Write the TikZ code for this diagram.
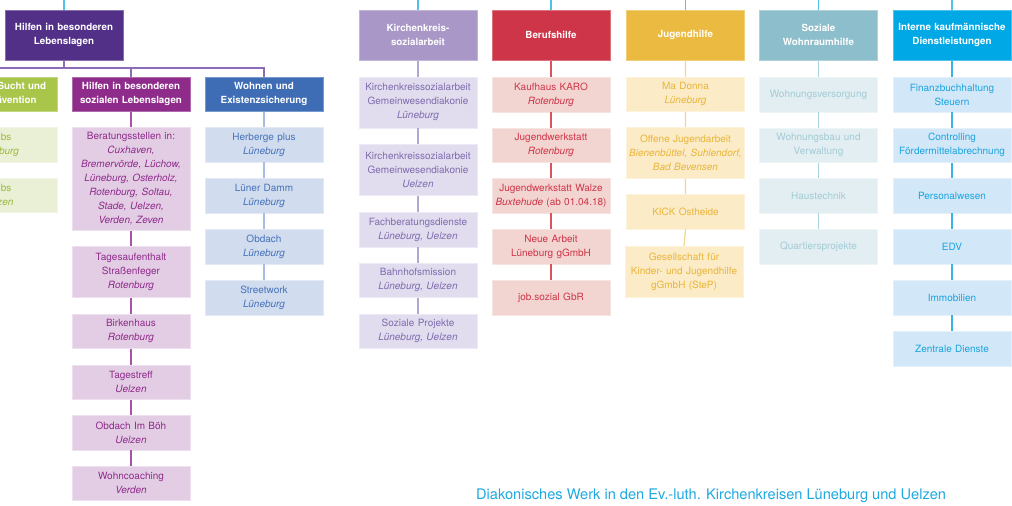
\documentclass[tikz,border=0pt]{standalone}
\usepackage{fontspec}
\setmainfont{TeX Gyre Heros}
\definecolor{cHA}{HTML}{523088}
\definecolor{cHB}{HTML}{8E2B8B}
\definecolor{fHB}{HTML}{E3CDE4}
\definecolor{lHB}{HTML}{A953A8}
\definecolor{cWo}{HTML}{3E6DB5}
\definecolor{fWo}{HTML}{D2DCEF}
\definecolor{tWo}{HTML}{4573BA}
\definecolor{lWo}{HTML}{A9BCE1}
\definecolor{cSu}{HTML}{A9C64B}
\definecolor{fSu}{HTML}{E9F0D5}
\definecolor{tSu}{HTML}{9DB93D}
\definecolor{cKi}{HTML}{A897C7}
\definecolor{fKi}{HTML}{E1DCEE}
\definecolor{tKi}{HTML}{7F6CAF}
\definecolor{lKi}{HTML}{B3A6D1}
\definecolor{cBe}{HTML}{CF3548}
\definecolor{fBe}{HTML}{F2D4D1}
\definecolor{tBe}{HTML}{CF3548}
\definecolor{lBe}{HTML}{D9535F}
\definecolor{cJu}{HTML}{EBBA41}
\definecolor{fJu}{HTML}{FBEBC6}
\definecolor{tJu}{HTML}{EAB53B}
\definecolor{lJu}{HTML}{F3D58C}
\definecolor{cSo}{HTML}{8DBECB}
\definecolor{fSo}{HTML}{E2EEF1}
\definecolor{tSo}{HTML}{A3CBD6}
\definecolor{lSo}{HTML}{A8D3DE}
\definecolor{cIn}{HTML}{00A9E6}
\definecolor{fIn}{HTML}{D2E8F8}
\definecolor{tIn}{HTML}{1BA3DF}
\definecolor{lIn}{HTML}{3AB4E8}
\definecolor{lTop}{HTML}{4CC3EE}
\definecolor{lBus}{HTML}{8C6BB8}
\definecolor{cFoot}{HTML}{1EA9E1}
\tikzset{
  bx/.style={anchor=north, inner sep=0pt, minimum width=118pt, text width=116pt,
    align=center, font=\fontsize{10}{14}\selectfont, line width=0.5pt},
  hd/.style={bx, fill=#1, draw=#1!70!white, text=white,
    font=\fontsize{9.8}{14}\selectfont\bfseries, minimum height=50.5pt},
  hdb/.style={hd=#1, minimum height=34.5pt},
  ch/.style 2 args={bx, fill=#1, draw=#1!60!white, text=#2, minimum height=34.5pt},
  tall/.style={minimum height=51pt},
  ln/.style={draw=#1, line width=1.2pt},
}
\begin{document}
\begin{tikzpicture}[x=1pt,y=-1pt]
\useasboundingbox (0,0) rectangle (1012,506);
\clip (0,0) rectangle (1012,506);
\fill[white] (0,0) rectangle (1012,506);

% top-level headers
\node[hd=cHA] (hA) at (64,9.5) {Hilfen in besonderen\\Lebenslagen};
\node[hd=cKi] (ki) at (418,9.5) {Kirchenkreis-\\sozialarbeit};
\node[hd=cBe] (be) at (551,9.5) {Berufshilfe};
\node[hd=cJu] (ju) at (685.5,9.5) {Jugendhilfe};
\node[hd=cSo] (so) at (818.5,9.5) {Soziale\\Wohnraumhilfe};
\node[hd=cIn] (in) at (952,9.5) {Interne kaufmännische\\Dienstleistungen};

% top connectors
\foreach \n/\x in {hA/64,ki/418,be/551,ju/685.5,so/818.5,in/952}{
  \coordinate (t\n) at (\x,0);
  \draw[ln=lTop] (t\n) -- (\n.north);
}

% second-level headers
\node[hdb=cSu] (su) at (-2,76.5) {Hilfen bei Sucht und\\Suchtprävention};
\node[hdb=cHB] (hb) at (131,76.5) {Hilfen in besonderen\\sozialen Lebenslagen};
\node[hdb=cWo] (wo) at (264,76.5) {Wohnen und\\Existenzsicherung};

\coordinate (bus) at (64,68);
\draw[ln=lBus] (hA.south) -- (bus);
\draw[ln=lBus] (su.north) |- (bus) -| (wo.north);
\draw[ln=lBus] (bus -| hb.north) -- (hb.north);

% Sucht
\node[ch={fSu}{tSu}] (su1) at (-2,127) {Drobs\\\textit{Lüneburg}};
\node[ch={fSu}{tSu}] (su2) at (-2,177.5) {Drobs\\\textit{Uelzen}};

% Hilfen in besonderen sozialen Lebenslagen
\node[ch={fHB}{cHB}, minimum height=103pt] (hb1) at (131,127) {Beratungsstellen in:\\\textit{Cuxhaven,}\\\textit{Bremervörde, Lüchow,}\\\textit{Lüneburg, Osterholz,}\\\textit{Rotenburg, Soltau,}\\\textit{Stade, Uelzen,}\\\textit{Verden, Zeven}};
\node[ch={fHB}{cHB}, tall] (hb2) at (131,246) {Tagesaufenthalt\\Straßenfeger\\\textit{Rotenburg}};
\node[ch={fHB}{cHB}] (hb3) at (131,313.5) {Birkenhaus\\\textit{Rotenburg}};
\node[ch={fHB}{cHB}] (hb4) at (131,364.5) {Tagestreff\\\textit{Uelzen}};
\node[ch={fHB}{cHB}] (hb5) at (131,415) {Obdach Im Böh\\\textit{Uelzen}};
\node[ch={fHB}{cHB}] (hb6) at (131,465.5) {Wohncoaching\\\textit{Verden}};

% Wohnen
\node[ch={fWo}{tWo}] (wo1) at (264,127) {Herberge plus\\\textit{Lüneburg}};
\node[ch={fWo}{tWo}] (wo2) at (264,178) {Lüner Damm\\\textit{Lüneburg}};
\node[ch={fWo}{tWo}] (wo3) at (264,229) {Obdach\\\textit{Lüneburg}};
\node[ch={fWo}{tWo}] (wo4) at (264,280) {Streetwork\\\textit{Lüneburg}};

% Kirchenkreissozialarbeit
\node[ch={fKi}{tKi}, tall] (ki1) at (418,76.5) {Kirchenkreissozialarbeit\\Gemeinwesendiakonie\\\textit{Lüneburg}};
\node[ch={fKi}{tKi}, tall] (ki2) at (418,144) {Kirchenkreissozialarbeit\\Gemeinwesendiakonie\\\textit{Uelzen}};
\node[ch={fKi}{tKi}] (ki3) at (418,212) {Fachberatungsdienste\\\textit{Lüneburg, Uelzen}};
\node[ch={fKi}{tKi}] (ki4) at (418,262.5) {Bahnhofsmission\\\textit{Lüneburg, Uelzen}};
\node[ch={fKi}{tKi}] (ki5) at (418,313.5) {Soziale Projekte\\\textit{Lüneburg, Uelzen}};

% Berufshilfe
\node[ch={fBe}{tBe}] (be1) at (551,77) {Kaufhaus KARO\\\textit{Rotenburg}};
\node[ch={fBe}{tBe}] (be2) at (551,127.5) {Jugendwerkstatt\\\textit{Rotenburg}};
\node[ch={fBe}{tBe}] (be3) at (551,178) {Jugendwerkstatt Walze\\\textit{Buxtehude} (ab 01.04.18)};
\node[ch={fBe}{tBe}] (be4) at (551,229) {Neue Arbeit\\Lüneburg gGmbH};
\node[ch={fBe}{tBe}] (be5) at (551,280) {job.sozial GbR};

% Jugendhilfe
\node[ch={fJu}{tJu}] (ju1) at (685.5,76.5) {Ma Donna\\\textit{Lüneburg}};
\node[ch={fJu}{tJu}, tall] (ju2) at (685.5,127) {Offene Jugendarbeit\\\textit{Bienenbüttel, Suhlendorf,}\\\textit{Bad Bevensen}};
\node[ch={fJu}{tJu}] (ju3) at (685.5,194) {KICK Ostheide};
\node[ch={fJu}{tJu}, tall] (ju4) at (684,246) {Gesellschaft für\\Kinder- und Jugendhilfe\\gGmbH (SteP)};

% Soziale Wohnraumhilfe
\node[ch={fSo}{tSo}] (so1) at (818.5,77) {Wohnungsversorgung};
\node[ch={fSo}{tSo}] (so2) at (818.5,127.5) {Wohnungsbau und\\Verwaltung};
\node[ch={fSo}{tSo}] (so3) at (818.5,178) {Haustechnik};
\node[ch={fSo}{tSo}] (so4) at (818.5,229) {Quartiersprojekte};

% Interne kaufmaennische Dienstleistungen
\node[ch={fIn}{tIn}] (in1) at (952,77) {Finanzbuchhaltung\\Steuern};
\node[ch={fIn}{tIn}] (in2) at (952,127.5) {Controlling\\Fördermittelabrechnung};
\node[ch={fIn}{tIn}] (in3) at (952,178) {Personalwesen};
\node[ch={fIn}{tIn}] (in4) at (952,229) {EDV};
\node[ch={fIn}{tIn}] (in5) at (952,280) {Immobilien};
\node[ch={fIn}{tIn}] (in6) at (952,331) {Zentrale Dienste};

% vertical connectors
\draw[ln=tSu] (su.south) -- (su1.north) (su1.south) -- (su2.north);
\draw[ln=lHB] (hb.south) -- (hb1.north) (hb1.south) -- (hb2.north) (hb2.south) -- (hb3.north)
  (hb3.south) -- (hb4.north) (hb4.south) -- (hb5.north) (hb5.south) -- (hb6.north);
\draw[ln=lWo] (wo.south) -- (wo1.north) (wo1.south) -- (wo2.north) (wo2.south) -- (wo3.north) (wo3.south) -- (wo4.north);
\draw[ln=lKi] (ki.south) -- (ki1.north) (ki1.south) -- (ki2.north) (ki2.south) -- (ki3.north)
  (ki3.south) -- (ki4.north) (ki4.south) -- (ki5.north);
\draw[ln=lBe] (be.south) -- (be1.north) (be1.south) -- (be2.north) (be2.south) -- (be3.north)
  (be3.south) -- (be4.north) (be4.south) -- (be5.north);
\draw[ln=lJu] (ju.south) -- (ju1.north) (ju1.south) -- (ju2.north) (ju2.south) -- (ju3.north) (ju3.south) -- (ju4.north);
\draw[ln=lSo] (so.south) -- (so1.north) (so1.south) -- (so2.north) (so2.south) -- (so3.north) (so3.south) -- (so4.north);
\draw[ln=lIn] (in.south) -- (in1.north) (in1.south) -- (in2.north) (in2.south) -- (in3.north)
  (in3.south) -- (in4.north) (in4.south) -- (in5.north) (in5.south) -- (in6.north);

% footer
\node[anchor=base west, inner sep=0pt, text=cFoot, font=\fontsize{14.6}{16}\selectfont] (ft) at (476,499)
  {Diakonisches Werk in den Ev.-luth. Kirchenkreisen Lüneburg und Uelzen};
\end{tikzpicture}
\end{document}
